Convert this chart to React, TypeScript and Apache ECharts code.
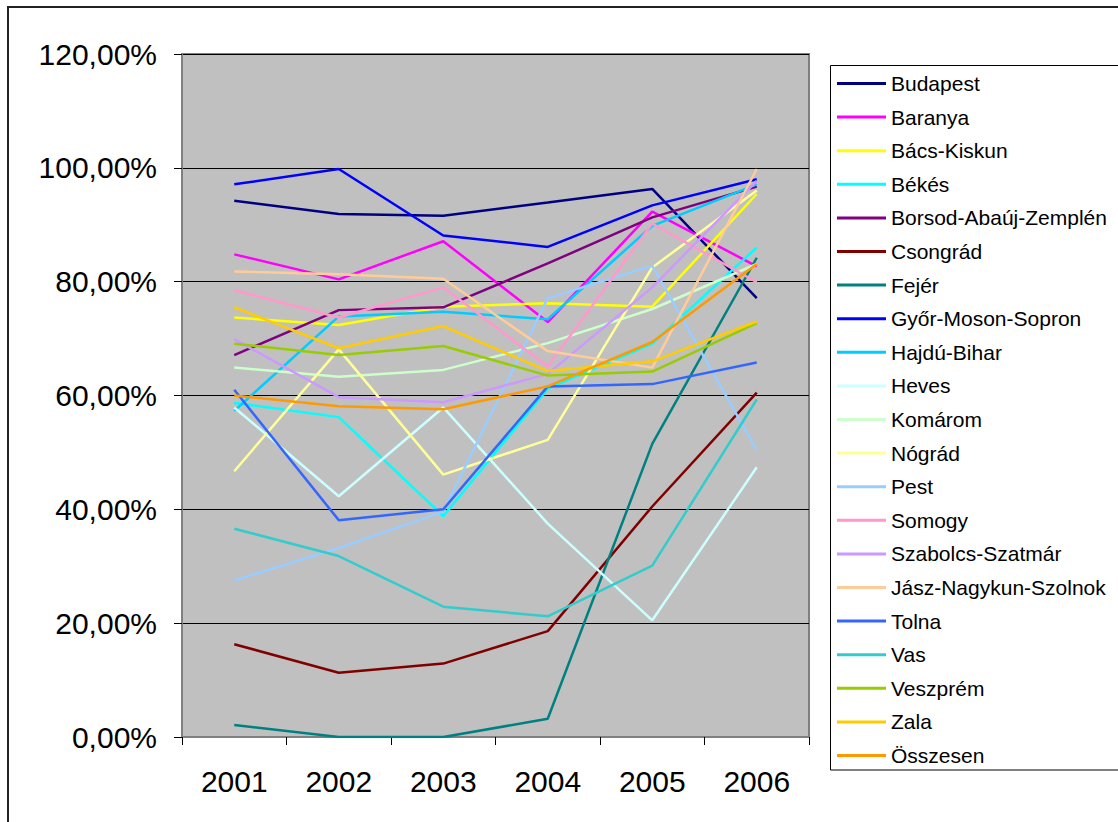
import React, { useEffect, useRef } from "react";
import * as echarts from "echarts";

const years = ["2001", "2002", "2003", "2004", "2005", "2006"];

const names = [
  "Budapest",
  "Baranya",
  "Bács-Kiskun",
  "Békés",
  "Borsod-Abaúj-Zemplén",
  "Csongrád",
  "Fejér",
  "Győr-Moson-Sopron",
  "Hajdú-Bihar",
  "Heves",
  "Komárom",
  "Nógrád",
  "Pest",
  "Somogy",
  "Szabolcs-Szatmár",
  "Jász-Nagykun-Szolnok",
  "Tolna",
  "Vas",
  "Veszprém",
  "Zala",
  "Összesen",
];

const colors = [
  "#000080",
  "#FF00FF",
  "#FFFF00",
  "#00FFFF",
  "#800080",
  "#800000",
  "#008080",
  "#0000FF",
  "#00CCFF",
  "#CCFFFF",
  "#CCFFCC",
  "#FFFF99",
  "#99CCFF",
  "#FF99CC",
  "#CC99FF",
  "#FFCC99",
  "#3366FF",
  "#33CCCC",
  "#99CC00",
  "#FFCC00",
  "#FF9900",
];

const budapest = [94.2, 91.9, 91.6, 93.9, 96.3, 77.1];
const baranya = [84.8, 80.4, 87.1, 72.9, 92.3, 82.7];
const bacsKiskun = [73.7, 72.4, 75.6, 76.2, 75.6, 95.4];
const bekes = [58.7, 56.2, 38.8, 61.2, 69.1, 86.0];
const borsod = [67.1, 75.0, 75.5, 83.2, 91.3, 96.7];
const csongrad = [16.3, 11.3, 12.9, 18.6, 40.5, 60.5];
const fejer = [2.1, 0, 0, 3.2, 51.5, 84.2];
const gyor = [97.1, 99.8, 88.1, 86.1, 93.4, 98.0];
const hajduBihar = [57.3, 73.9, 74.7, 73.4, 89.8, 97.1];
const heves = [57.9, 42.3, 57.9, 37.5, 20.5, 47.4];
const komarom = [64.9, 63.3, 64.5, 69.2, 75.2, 83.1];
const nograd = [46.7, 68.1, 46.1, 52.2, 82.5, 96.0];
const pest = [27.5, 33.2, 39.6, 77.1, 82.8, 50.4];
const somogy = [78.5, 73.7, 79.0, 65.1, 90.2, 79.9];
const szabolcs = [69.9, 59.7, 58.8, 63.8, 79.0, 97.7];
const jasz = [81.8, 81.3, 80.5, 67.8, 64.9, 99.8];
const tolna = [61.0, 38.1, 40.0, 61.6, 62.0, 65.8];
const vas = [36.6, 31.8, 22.9, 21.2, 30.1, 59.3];
const veszprem = [69.1, 67.1, 68.7, 63.5, 64.2, 72.7];
const zala = [75.5, 68.3, 72.2, 64.3, 66.0, 73.0];
const osszesen = [60.0, 58.1, 57.6, 61.6, 69.4, 83.1];

const seriesData = [
  budapest,
  baranya,
  bacsKiskun,
  bekes,
  borsod,
  csongrad,
  fejer,
  gyor,
  hajduBihar,
  heves,
  komarom,
  nograd,
  pest,
  somogy,
  szabolcs,
  jasz,
  tolna,
  vas,
  veszprem,
  zala,
  osszesen,
];

const FONT = "'Liberation Sans', Arial, sans-serif";

export default function App() {
  const ref = useRef<HTMLDivElement>(null);

  useEffect(() => {
    if (!ref.current) return;
    const chart = echarts.init(ref.current, null, { renderer: "svg" });
    chart.setOption({
      animation: false,
      backgroundColor: "#FFFFFF",
      textStyle: { fontFamily: FONT },
      grid: {
        left: 182,
        top: 54,
        right: 309,
        bottom: 85,
        show: true,
        backgroundColor: "#C0C0C0",
        borderColor: "#808080",
        borderWidth: 2,
        containLabel: false,
      },
      legend: {
        type: "plain",
        orient: "vertical",
        left: 837,
        top: 71.5,
        itemWidth: 49,
        itemHeight: 3,
        itemGap: 9.6,
        icon: "rect",
        padding: 0,
        textStyle: {
          fontFamily: FONT,
          fontSize: 21,
          color: "#000",
          lineHeight: 24,
          padding: [0, 0, 0, 0],
        },
        data: names,
      },
      xAxis: {
        type: "category",
        data: years,
        boundaryGap: true,
        axisLine: { show: true, lineStyle: { color: "#808080", width: 2 } },
        axisTick: {
          show: true,
          length: 8,
          inside: false,
          alignWithLabel: false,
          lineStyle: { color: "#000", width: 1 },
        },
        axisLabel: {
          margin: 29,
          fontSize: 30,
          color: "#000",
          fontFamily: FONT,
        },
        splitLine: { show: false },
      },
      yAxis: {
        type: "value",
        min: 0,
        max: 120,
        interval: 20,
        axisLine: { show: true, lineStyle: { color: "#808080", width: 2 } },
        axisTick: {
          show: true,
          length: 8,
          inside: false,
          lineStyle: { color: "#000", width: 1 },
        },
        axisLabel: {
          margin: 25,
          fontSize: 30,
          color: "#000",
          fontFamily: FONT,
          formatter: (v: number) => v.toFixed(2).replace(".", ",") + "%",
        },
        splitLine: { show: true, lineStyle: { color: "#000", width: 1 } },
      },
      series: names.map((n, i) => ({
        name: n,
        type: "line",
        data: seriesData[i],
        showSymbol: false,
        symbol: "none",
        color: colors[i],
        lineStyle: { color: colors[i], width: 2.5 },
        emphasis: { disabled: true },
      })),
      graphic: [
        {
          type: "rect",
          shape: { x: 8, y: 7, width: 1300, height: 1000 },
          style: { fill: "none", stroke: "#222", lineWidth: 2 },
          silent: true,
          z: 100,
        },
        {
          type: "rect",
          shape: { x: 830.5, y: 65.5, width: 400, height: 704.5 },
          style: { fill: "none", stroke: "#000", lineWidth: 1 },
          silent: true,
          z: 100,
        },
      ],
    });
    return () => chart.dispose();
  }, []);

  return (
    <div
      ref={ref}
      style={{ position: "absolute", left: 0, top: 0, width: 1118, height: 822 }}
    />
  );
}
